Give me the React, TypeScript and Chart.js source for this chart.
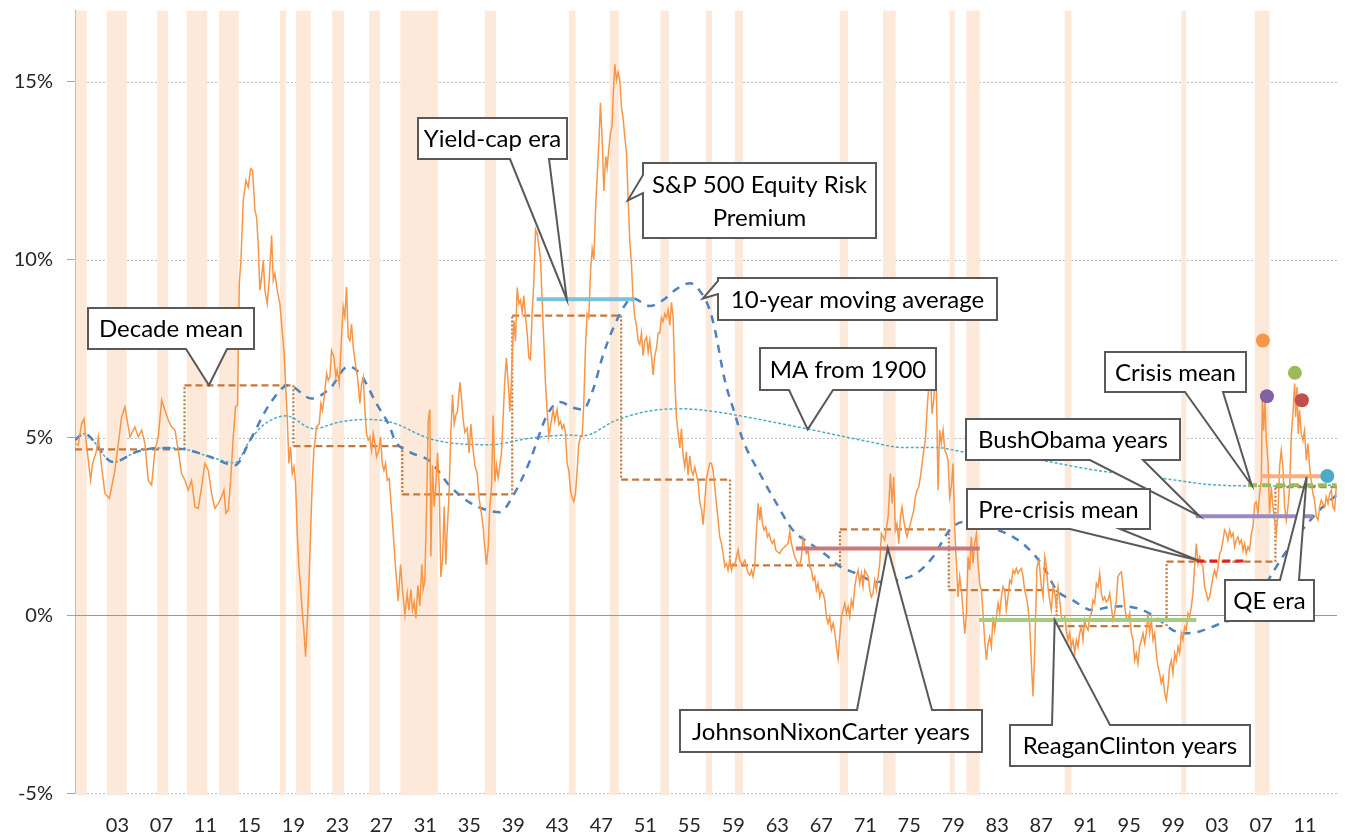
import React, { useEffect, useRef } from "react";
import { Chart, registerables } from "chart.js";

Chart.register(...registerables);

// ---------- axis ----------
const X_MIN = 1899.14;
const X_MAX = 2013.9;
const Y_MIN = -5;
const Y_MAX = 17;
const xTickYears = [1903, 1907, 1911, 1915, 1919, 1923, 1927, 1931, 1935, 1939, 1943, 1947, 1951, 1955, 1959, 1963, 1967, 1971, 1975, 1979, 1983, 1987, 1991, 1995, 1999, 2003, 2007, 2011];
const yTickValues = [-5, 0, 5, 10, 15];

// ---------- recession bands (start, end) ----------
const recessions: [number, number][] = [
  [1899.2, 1900.2], [1902.02, 1903.84], [1906.62, 1907.62], [1909.29, 1911.16], [1912.25, 1914.02],
  [1917.77, 1918.32], [1919.23, 1920.56], [1922.53, 1923.59], [1925.89, 1926.87], [1928.73, 1932.16],
  [1936.41, 1937.41], [1944.05, 1944.65], [1947.77, 1948.59], [1952.38, 1953.14], [1956.5, 1957.07],
  [1959.14, 1959.89], [1968.68, 1969.44], [1972.62, 1973.77], [1978.68, 1979.14], [1980.2, 1981.41],
  [1989.14, 1989.75], [1999.75, 2000.2], [2006.41, 2007.77],
];

// ---------- S&P 500 equity risk premium (year, %) ----------
const erpPoints: [number, number][] = [
  [1899.14,4.83],[1899.44,4.79],[1899.74,5.39],[1899.95,5.53],[1900.14,4.93],[1900.35,4.36],[1900.56,3.80],[1900.74,4.27],[1901.11,4.64],[1901.26,5.02],[1901.56,4.18],[1901.86,3.43],[1902.26,3.29],[1902.47,3.61],[1902.77,4.08],[1903.08,4.83],[1903.38,5.58],[1903.68,5.86],[1903.83,5.58],[1904.14,5.02],[1904.59,5.30],[1904.89,5.02],[1905.20,5.21],[1905.50,4.83],[1905.80,3.80],[1906.11,3.66],[1906.41,4.64],[1906.71,5.02],[1907.02,6.05],[1907.32,5.77],[1907.62,5.49],[1907.92,5.30],[1908.23,5.21],[1908.53,4.64],[1908.83,3.99],[1909.14,3.80],[1909.44,3.52],[1909.74,3.80],[1910.05,3.05],[1910.35,3.01],[1910.65,3.61],[1910.95,4.27],[1911.26,4.08],[1911.56,3.43],[1911.86,3.01],[1912.17,3.15],[1912.47,3.33],[1912.68,3.52],[1912.86,2.87],[1913.08,2.96],[1913.29,3.80],[1913.53,5.02],[1913.74,5.86],[1913.92,5.91],[1914.08,9.33],[1914.23,9.98],[1914.44,11.67],[1914.68,12.23],[1914.89,12.04],
  [1915.11,12.56],[1915.29,12.51],[1915.50,11.39],[1915.65,11.20],[1915.80,10.45],[1915.95,9.14],[1916.11,9.51],[1916.26,9.98],[1916.41,9.14],[1916.62,8.76],[1916.80,9.42],[1917.02,10.68],[1917.17,9.42],[1917.32,9.61],[1917.53,9.14],[1917.77,8.76],[1917.98,8.01],[1918.14,7.45],[1918.29,6.52],[1918.44,5.58],[1918.59,4.27],[1918.74,4.74],[1918.89,3.99],[1919.05,4.18],[1919.20,3.71],[1919.35,2.30],[1919.50,1.37],[1919.65,0.81],[1919.80,0.15],[1919.95,-0.41],[1920.11,-1.16],[1920.26,-0.22],[1920.41,0.90],[1920.56,2.30],[1920.71,3.71],[1920.86,4.64],[1921.11,5.30],[1921.35,5.39],[1921.50,5.96],[1921.65,5.77],[1921.80,6.14],[1922.02,6.80],[1922.17,6.61],[1922.32,6.70],[1922.47,7.45],[1922.68,7.27],[1922.86,6.70],[1922.98,6.89],[1923.17,6.52],[1923.38,7.83],[1923.53,8.67],[1923.68,8.39],[1923.83,9.23],[1923.98,7.83],[1924.14,7.73],[1924.29,8.20],[1924.44,7.55],[1924.68,6.98],[1924.83,6.70],[1925.05,5.96],[1925.20,6.52],[1925.35,6.70],[1925.50,5.77],[1925.65,5.11],[1925.80,4.93],[1925.95,5.02],[1926.11,4.64],[1926.26,5.11],[1926.41,4.83],[1926.56,4.46],[1926.77,4.64],[1926.92,5.02],[1927.08,4.27],[1927.23,4.08],[1927.38,4.27],[1927.53,3.80],[1927.71,3.85],[1927.86,3.24],[1928.08,2.30],
  [1928.23,1.60],[1928.53,0.40],[1928.74,1.43],[1928.92,0.73],[1929.14,0.03],[1929.35,0.62],[1929.50,0.15],[1929.68,0.73],[1929.83,0.15],[1929.98,0.38],[1930.14,-0.08],[1930.32,0.85],[1930.50,0.27],[1930.68,1.43],[1930.80,0.73],[1930.95,0.97],[1931.11,3.06],[1931.26,5.50],[1931.41,5.79],[1931.50,1.66],[1931.65,4.22],[1931.80,3.06],[1931.95,3.64],[1932.11,4.57],[1932.26,3.64],[1932.41,1.08],[1932.56,1.55],[1932.71,3.06],[1932.86,1.43],[1932.98,2.36],[1933.14,3.29],[1933.32,5.15],[1933.47,6.20],[1933.62,5.38],[1933.77,5.62],[1933.92,5.73],[1934.14,6.55],[1934.26,6.20],[1934.44,5.50],[1934.59,5.15],[1934.80,5.27],[1934.98,4.57],[1935.14,5.38],[1935.29,4.80],[1935.50,4.22],[1935.71,3.99],[1935.89,3.29],[1936.11,2.83],[1936.26,2.48],[1936.41,1.90],[1936.56,1.43],[1936.71,1.90],[1936.86,3.06],[1937.02,3.64],[1937.17,5.62],[1937.32,3.76],[1937.47,4.22],[1937.62,3.87],[1937.77,4.22],[1937.92,4.57],[1938.08,5.62],[1938.23,6.66],[1938.38,7.24],[1938.47,6.78],[1938.59,6.31],[1938.68,5.73],[1938.80,6.43],[1938.92,7.48],[1939.05,8.29],[1939.20,7.71],[1939.35,9.22],[1939.50,8.76],[1939.65,8.87],[1939.80,8.52],[1939.95,8.99],[1940.11,8.41],[1940.26,7.94],[1940.41,7.24],[1940.56,7.19],[1940.71,8.52],[1940.86,9.34],[1941.02,10.85],[1941.17,10.73],[1941.32,10.38],[1941.47,10.03],[1941.62,8.87],[1941.77,7.71],[1941.92,6.55],[1942.08,5.73],[1942.23,5.03],
  [1942.62,5.79],[1942.77,5.46],[1942.98,5.79],[1943.14,5.36],[1943.29,5.46],[1943.44,5.25],[1943.59,5.36],[1943.74,5.14],[1943.89,4.28],[1944.05,4.06],[1944.20,3.52],[1944.35,3.31],[1944.50,3.20],[1944.65,3.42],[1944.80,4.06],[1944.95,4.82],[1945.11,5.03],[1945.26,5.03],[1945.41,6.00],[1945.56,7.51],[1945.71,8.48],[1945.86,8.37],[1946.02,9.67],[1946.17,10.31],[1946.32,10.00],[1946.50,11.60],[1946.68,12.68],[1946.80,13.44],[1946.92,14.41],[1947.02,13.76],[1947.11,13.11],[1947.23,11.93],[1947.32,12.47],[1947.41,12.90],[1947.53,12.58],[1947.68,13.11],[1947.83,13.55],[1947.98,13.76],[1948.08,14.62],[1948.23,15.49],[1948.38,15.05],[1948.53,15.27],[1948.68,15.05],[1948.83,14.30],[1948.98,13.98],[1949.14,13.44],[1949.29,13.00],[1949.44,11.71],[1949.59,10.53],[1949.74,9.88],[1949.89,8.91],[1950.05,8.37],[1950.20,8.16],[1950.35,7.73],[1950.50,7.62],[1950.65,7.94],[1950.80,7.30],[1950.95,7.73],[1951.11,7.83],[1951.26,7.40],[1951.41,7.73],[1951.56,7.30],[1951.71,6.76],[1951.86,7.30],[1952.02,7.51],[1952.17,7.94],[1952.32,7.94],[1952.47,8.37],[1952.62,8.26],[1952.77,8.48],[1952.92,8.37],[1953.08,8.59],[1953.23,8.16],[1953.38,8.80],[1953.53,8.37],[1953.68,6.65],[1953.83,5.57],[1953.98,5.14],[1954.14,4.71],[1954.29,5.25],[1954.44,4.49],[1954.59,4.17],[1954.74,4.60],[1954.89,3.95],[1955.05,4.49],[1955.20,4.06],[1955.35,3.95],[1955.50,4.17],[1955.65,3.95],[1955.80,3.74],[1955.95,3.20],[1956.11,2.98],[1956.26,2.55],[1956.41,3.20],[1956.56,3.85],[1956.71,4.06],[1956.86,4.28],[1957.02,4.28],[1957.17,4.06],
  [1957.32,3.61],[1957.47,3.15],[1957.62,2.68],[1957.77,2.21],[1957.92,2.02],[1958.08,1.74],[1958.23,1.37],[1958.38,1.46],[1958.53,1.27],[1958.68,1.55],[1958.83,1.27],[1958.98,1.46],[1959.14,1.41],[1959.29,1.65],[1959.44,1.84],[1959.59,1.55],[1959.74,1.46],[1959.89,1.46],[1960.05,1.55],[1960.20,1.37],[1960.35,1.18],[1960.50,1.13],[1960.65,1.27],[1960.80,1.09],[1960.95,1.37],[1961.11,2.40],[1961.26,3.15],[1961.41,2.68],[1961.50,3.05],[1961.65,2.58],[1961.80,2.40],[1961.95,2.49],[1962.11,2.21],[1962.26,2.30],[1962.41,2.12],[1962.56,2.02],[1962.71,2.12],[1962.86,1.84],[1963.02,1.79],[1963.23,1.74],[1963.38,1.84],[1963.53,1.88],[1963.68,1.93],[1963.83,1.98],[1963.98,2.02],[1964.14,2.35],[1964.29,2.02],[1964.44,1.84],[1964.59,1.65],[1964.74,1.55],[1964.89,1.46],[1965.05,1.41],[1965.20,1.65],[1965.35,2.16],[1965.50,1.93],[1965.65,1.74],[1965.80,1.84],[1965.95,1.37],[1966.11,1.27],[1966.26,0.99],[1966.41,1.09],[1966.56,0.71],[1966.71,0.90],[1966.86,0.52],[1967.02,0.71],[1967.17,0.62],[1967.32,0.43],[1967.47,-0.04],[1967.62,-0.22],[1967.77,-0.04],[1967.92,-0.41],[1968.08,-0.22],[1968.23,-0.46],[1968.38,-0.88],[1968.53,-1.21],[1968.68,-0.60],[1968.83,-0.04],[1968.98,0.15],[1969.14,0.34],[1969.29,0.06],[1969.44,0.24],[1969.59,-0.04],[1969.74,0.43],[1969.89,0.24],[1970.05,0.81],[1970.20,1.09],[1970.35,1.27],[1970.50,0.90],[1970.65,1.18],[1970.80,0.81],[1970.95,1.27],[1971.11,1.18],[1971.26,1.09],[1971.41,0.71],[1971.56,0.52],[1971.71,0.62],[1971.86,0.99],[1972.02,0.71],[1972.17,1.09],[1972.32,1.46],
  [1972.47,2.30],[1972.77,2.12],[1973.08,2.77],[1973.29,3.99],[1973.44,3.15],[1973.59,3.90],[1973.74,2.40],[1973.89,2.58],[1974.05,2.02],[1974.20,2.77],[1974.35,3.05],[1974.50,2.68],[1974.65,2.40],[1974.80,2.21],[1974.95,2.40],[1975.11,2.58],[1975.26,2.77],[1975.41,2.96],[1975.56,3.33],[1975.71,3.52],[1975.86,3.61],[1976.02,3.90],[1976.17,4.27],[1976.32,4.64],[1976.47,4.93],[1976.62,5.77],[1976.77,6.42],[1976.92,6.80],[1977.08,5.67],[1977.23,6.05],[1977.38,6.98],[1977.47,6.42],[1977.62,3.52],[1977.77,5.21],[1977.92,4.83],[1978.08,5.21],[1978.23,4.64],[1978.38,4.55],[1978.53,4.36],[1978.68,3.33],[1978.83,3.61],[1978.98,4.27],[1979.14,2.40],[1979.29,1.46],[1979.44,0.52],[1979.59,1.09],[1979.74,0.71],[1979.89,0.15],[1980.05,-0.51],[1980.20,0.06],[1980.35,1.65],[1980.50,1.27],[1980.65,2.21],[1980.80,1.46],[1980.95,2.02],[1981.11,2.30],[1981.26,1.46],[1981.41,0.90],[1981.56,0.71],[1981.71,0.06],[1981.86,-0.69],[1982.02,-1.25],[1982.17,-0.79],[1982.32,-0.60],[1982.47,-0.88],[1982.62,-0.04],[1982.77,-0.41],[1982.92,-0.04],[1983.08,0.34],[1983.23,0.06],[1983.38,0.52],[1983.53,0.81],[1983.68,0.71],[1983.83,0.15],[1983.98,0.52],[1984.14,0.99],[1984.29,0.90],[1984.44,1.27],[1984.59,1.18],[1984.74,1.32],[1984.89,1.18],[1985.05,1.27],[1985.20,1.32],[1985.35,1.09],[1985.50,0.71],[1985.65,0.52],[1985.80,0.24],[1985.95,-0.22],[1986.11,-1.35],[1986.26,-2.28],[1986.41,-0.97],
  [1986.62,1.37],[1986.80,1.55],[1987.02,0.80],[1987.17,0.52],[1987.32,1.65],[1987.47,1.37],[1987.62,0.80],[1987.77,0.43],[1987.92,0.15],[1988.08,0.80],[1988.23,0.62],[1988.38,0.24],[1988.53,0.80],[1988.68,0.43],[1988.83,-0.04],[1988.98,-0.13],[1989.14,-0.04],[1989.29,-0.41],[1989.44,-0.69],[1989.59,-0.50],[1989.74,-0.88],[1989.89,-0.69],[1990.05,-1.06],[1990.20,-0.69],[1990.35,-0.88],[1990.50,-0.50],[1990.65,-0.32],[1990.80,-0.69],[1990.95,-0.13],[1991.11,-0.32],[1991.26,-0.41],[1991.41,-0.04],[1991.56,0.06],[1991.71,0.43],[1991.86,0.34],[1992.02,0.90],[1992.17,0.80],[1992.32,1.18],[1992.47,0.62],[1992.62,0.43],[1992.77,0.52],[1992.92,0.38],[1993.08,0.43],[1993.23,0.62],[1993.38,0.24],[1993.53,-0.13],[1993.68,0.06],[1993.83,0.43],[1993.98,1.08],[1994.14,1.18],[1994.29,1.22],[1994.44,0.80],[1994.59,0.24],[1994.74,-0.04],[1994.89,-0.13],[1995.05,0.06],[1995.20,-0.50],[1995.35,-0.69],[1995.50,-1.26],[1995.65,-1.07],[1995.80,-1.35],[1995.95,-0.88],[1996.11,-0.69],[1996.26,-0.50],[1996.41,-0.79],[1996.56,-0.50],[1996.71,0.06],[1996.86,-0.50],[1997.02,-0.13],[1997.17,-0.69],[1997.32,-0.50],[1997.47,-1.07],[1997.62,-1.44],[1997.77,-1.63],[1997.92,-1.91],[1998.08,-1.72],[1998.23,-2.19],[1998.38,-2.38],[1998.53,-2.00],[1998.68,-1.44],[1998.83,-1.26],[1998.98,-1.63],[1999.14,-1.07],[1999.29,-1.26],[1999.44,-0.88],[1999.59,-1.07],[1999.74,-0.50],[1999.89,-0.69],[2000.05,-0.32],[2000.20,-0.41],[2000.35,0.06],[2000.50,-0.04],[2000.65,0.24],[2000.80,0.62],[2000.95,1.37],[2001.11,2.02],[2001.26,1.46],[2001.41,1.65],[2001.56,1.46],[2001.71,1.37],[2001.86,0.80],[2002.02,0.62],[2002.17,0.43],
  [2002.32,0.52],[2002.47,0.80],[2002.62,1.09],[2002.77,1.27],[2002.92,1.09],[2003.08,1.36],[2003.23,1.74],[2003.38,1.83],[2003.53,2.12],[2003.68,2.40],[2003.83,2.31],[2003.98,2.12],[2004.14,2.40],[2004.29,2.21],[2004.44,2.31],[2004.59,1.93],[2004.74,2.12],[2004.89,2.21],[2005.05,2.02],[2005.20,2.12],[2005.35,1.83],[2005.50,2.02],[2005.65,1.74],[2005.80,1.93],[2005.95,1.83],[2006.11,2.30],[2006.26,2.49],[2006.41,3.14],[2006.56,3.19],[2006.71,2.86],[2006.86,3.42],[2007.02,3.80],[2007.11,6.20],[2007.23,5.20],[2007.35,6.05],[2007.47,4.92],[2007.62,4.36],[2007.77,2.86],[2007.92,3.61],[2008.08,3.05],[2008.23,2.68],[2008.38,2.30],[2008.53,2.86],[2008.68,4.18],[2008.83,4.64],[2008.98,4.18],[2009.14,3.05],[2009.29,2.68],[2009.44,3.05],[2009.59,3.61],[2009.74,5.02],[2009.89,5.67],[2010.05,6.52],[2010.14,5.58],[2010.26,6.42],[2010.38,5.11],[2010.50,5.77],[2010.65,5.11],[2010.80,4.92],[2010.95,5.20],[2011.11,4.36],[2011.26,4.83],[2011.41,4.18],[2011.56,3.80],[2011.71,3.42],[2011.86,3.24],[2012.02,2.77],[2012.17,2.68],[2012.32,3.05],[2012.47,3.24],[2012.62,3.14],[2012.77,3.05],[2012.92,3.33],[2013.08,3.14],[2013.23,3.42],[2013.38,3.52],[2013.53,3.05],[2013.68,2.96],[2013.83,3.61],
];

// ---------- 10-year moving average ----------
const ma10Points: [number, number][] = [
  [1899.14,4.93],[1899.95,5.11],[1902.62,4.31],[1904.75,4.60],[1906.86,4.71],[1909.14,4.67],[1911.41,4.46],[1913.68,4.22],[1915.05,4.92],[1916.86,5.95],[1918.53,6.47],[1920.65,6.10],[1922.32,6.38],[1923.98,7.00],[1925.05,6.80],[1926.56,5.95],[1927.77,5.30],[1928.23,4.92],[1929.59,4.59],[1931.41,4.34],[1933.23,3.64],[1935.05,3.17],[1936.86,2.94],[1937.77,2.90],[1938.95,3.35],[1940.50,4.34],[1942.05,5.62],[1943.23,6.00],[1944.41,5.84],[1945.32,5.79],[1946.23,6.33],[1947.14,7.30],[1948.05,8.05],[1949.32,8.80],[1949.86,8.91],[1951.41,8.70],[1952.59,8.86],[1953.86,9.18],[1955.05,9.34],[1955.95,9.13],[1956.86,8.59],[1957.32,8.05],[1958.23,6.61],[1959.14,5.67],[1959.89,4.92],[1961.41,3.99],[1962.93,3.15],[1964.41,2.40],[1965.95,2.03],[1967.47,1.69],[1968.68,1.38],[1970.20,1.18],[1972.02,0.94],[1973.84,0.99],[1975.65,1.18],[1977.17,1.65],[1978.68,2.40],[1979.89,2.63],[1981.11,2.58],[1983.50,2.35],[1985.32,2.02],[1987.14,1.40],[1988.41,0.71],[1989.86,0.43],[1991.68,0.15],[1993.23,0.24],[1994.41,0.26],[1996.23,0.15],[1997.77,-0.13],[1998.95,-0.41],[2000.23,-0.50],[2001.41,-0.45],[2002.32,-0.35],[2003.50,-0.20],[2005.95,0.10],[2008.08,1.22],[2009.59,1.93],[2012.02,2.87],[2013.83,3.38],
];

// ---------- moving average from 1900 ----------
const ma1900Points: [number, number][] = [
  [1899.14,4.93],[1899.95,5.11],[1902.62,4.31],[1904.75,4.60],[1906.86,4.71],[1909.14,4.67],[1911.41,4.46],[1913.68,4.29],[1915.05,4.92],[1916.26,5.35],[1918.38,5.61],[1920.80,5.25],[1923.23,5.44],[1925.65,5.51],[1927.77,5.44],[1931.71,4.94],[1936.86,4.80],[1940.50,4.98],[1944.09,5.07],[1945.32,5.05],[1948.38,5.49],[1951.41,5.75],[1954.41,5.81],[1957.50,5.72],[1959.29,5.63],[1965.77,5.24],[1971.41,4.88],[1974.44,4.72],[1977.50,4.72],[1979.89,4.60],[1986.00,4.41],[1992.00,4.08],[1998.10,3.85],[2002.30,3.68],[2006.60,3.64],[2013.83,3.66],
];

// ---------- decade means ----------
const decadeBreaks = [1899.14, 1909.1, 1919.0, 1928.9, 1938.9, 1948.8, 1958.7, 1968.7, 1978.6, 1988.4, 1998.4, 2008.3, 2013.9];
const decadeMeans = [4.67, 6.47, 4.76, 3.40, 8.43, 3.82, 1.41, 2.42, 0.71, -0.30, 1.51, 3.61];

// ---------- era means ----------
const eraNames = ["Yield-cap era", "JohnsonNixonCarter years", "ReaganClinton years", "BushObama years", "Pre-crisis mean", "Crisis mean", "QE era"];
const eraStarts = [1941.11, 1964.68, 1981.35, 2001.05, 2001.11, 2005.8, 2007.02];
const eraEnds = [1950.05, 1981.41, 2001.11, 2011.71, 2005.65, 2013.86, 2012.62];
const eraMeans = [8.89, 1.88, -0.13, 2.79, 1.53, 3.66, 3.91];

// ---------- highlighted points ----------
const dotYears = [2007.16, 2007.53, 2010.07, 2010.71, 2013.02];
const dotValues = [7.73, 6.16, 6.82, 6.05, 3.92];

// ---------- styles ----------
const eraStyles: Record<string, { color: string; width: number; dash: number[] }> = {
  "Yield-cap era": { color: "#7EC0D8", width: 4, dash: [] },
  "JohnsonNixonCarter years": { color: "#C9787E", width: 4, dash: [] },
  "ReaganClinton years": { color: "#A8CB82", width: 4, dash: [] },
  "BushObama years": { color: "#9B8AC0", width: 4, dash: [] },
  "Pre-crisis mean": { color: "#E41E26", width: 3, dash: [8, 5] },
  "Crisis mean": { color: "#9BBB59", width: 4, dash: [9, 5] },
  "QE era": { color: "#F9AE7C", width: 4, dash: [] },
};
const dotColors = ["#F79646", "#8064A2", "#9BBB59", "#C0504D", "#4BACC6"];

type Callout = {
  lines: string[];
  box: [number, number, number, number];
  side: "top" | "bottom" | "left";
  base: [number, number];
  tip: [number, number];
};

const callouts: Callout[] = [
  { lines: ["Decade mean"], box: [88, 308, 254, 349], side: "bottom", base: [186, 227], tip: [1911.32, 6.47] },
  { lines: ["Yield-cap era"], box: [418, 118, 567, 159], side: "bottom", base: [510, 549], tip: [1943.86, 8.89] },
  { lines: ["S&P 500 Equity Risk", "Premium"], box: [643, 163, 876, 238], side: "left", base: [175, 193], tip: [1949.41, 11.67] },
  { lines: ["10-year moving average"], box: [718, 278, 997, 320], side: "left", base: [281, 294], tip: [1956.23, 8.91] },
  { lines: ["MA from 1900"], box: [760, 348, 936, 390], side: "bottom", base: [789, 833], tip: [1965.77, 5.23] },
  { lines: ["Crisis mean"], box: [1105, 352, 1246, 392], side: "bottom", base: [1185, 1223], tip: [2006.14, 3.66] },
  { lines: ["BushObama years"], box: [966, 419, 1180, 460], side: "bottom", base: [1090, 1143], tip: [2001.41, 2.79] },
  { lines: ["Pre-crisis mean"], box: [967, 489, 1150, 529], side: "bottom", base: [1070, 1120], tip: [2001.23, 1.55] },
  { lines: ["QE era"], box: [1225, 580, 1314, 621], side: "top", base: [1280, 1299], tip: [2011.14, 3.89] },
  { lines: ["JohnsonNixonCarter years"], box: [680, 710, 982, 752], side: "top", base: [857, 932], tip: [1973.05, 1.89] },
  { lines: ["ReaganClinton years"], box: [1010, 725, 1250, 766], side: "top", base: [1052, 1110], tip: [1988.23, -0.13] },
];

const FONT = "Lato, 'Open Sans', 'DejaVu Sans', sans-serif";

const backgroundPlugin = {
  id: "erpBackground",
  beforeDatasetsDraw(chart: any) {
    const { ctx, chartArea: a, scales } = chart;
    const x = scales.x;
    const y = scales.y;
    ctx.save();
    // dotted horizontal gridlines
    ctx.strokeStyle = "#BFBFBF";
    ctx.lineWidth = 1;
    ctx.setLineDash([2, 2]);
    yTickValues.forEach((v) => {
      if (v === 0) return;
      const py = Math.round(y.getPixelForValue(v)) + 0.5;
      ctx.beginPath();
      ctx.moveTo(a.left, py);
      ctx.lineTo(a.right, py);
      ctx.stroke();
    });
    ctx.setLineDash([]);
    // recession bands
    ctx.fillStyle = "rgb(253,233,217)";
    recessions.forEach(([s, e]) => {
      const x0 = x.getPixelForValue(s);
      const x1 = x.getPixelForValue(e);
      ctx.fillRect(x0, a.top, x1 - x0, a.bottom - a.top + 2);
    });
    // zero line
    const p0 = Math.round(y.getPixelForValue(0)) + 0.5;
    ctx.strokeStyle = "#999999";
    ctx.lineWidth = 1;
    ctx.beginPath();
    ctx.moveTo(a.left, p0);
    ctx.lineTo(a.right, p0);
    ctx.stroke();
    ctx.restore();
  },
};

const calloutPlugin = {
  id: "erpCallouts",
  afterDatasetsDraw(chart: any) {
    const { ctx, scales } = chart;
    const x = scales.x;
    const y = scales.y;
    ctx.save();
    callouts.forEach((c) => {
      const [x0, y0, x1, y1] = c.box;
      const tx = x.getPixelForValue(c.tip[0]);
      const ty = y.getPixelForValue(c.tip[1]);
      const [b0, b1] = c.base;
      ctx.beginPath();
      ctx.moveTo(x0, y0);
      if (c.side === "top") {
        ctx.lineTo(b0, y0);
        ctx.lineTo(tx, ty);
        ctx.lineTo(b1, y0);
      }
      ctx.lineTo(x1, y0);
      ctx.lineTo(x1, y1);
      if (c.side === "bottom") {
        ctx.lineTo(b1, y1);
        ctx.lineTo(tx, ty);
        ctx.lineTo(b0, y1);
      }
      ctx.lineTo(x0, y1);
      if (c.side === "left") {
        ctx.lineTo(x0, b1);
        ctx.lineTo(tx, ty);
        ctx.lineTo(x0, b0);
      }
      ctx.closePath();
      ctx.fillStyle = "#FFFFFF";
      ctx.fill();
      ctx.strokeStyle = "#595959";
      ctx.lineWidth = 2;
      ctx.lineJoin = "miter";
      ctx.stroke();
      ctx.fillStyle = "#000000";
      ctx.font = `24px ${FONT}`;
      ctx.textAlign = "center";
      ctx.textBaseline = "middle";
      const cx = (x0 + x1) / 2;
      const cy = (y0 + y1) / 2 + 1;
      const lh = 33;
      c.lines.forEach((t, i) => {
        ctx.fillText(t, cx, cy + (i - (c.lines.length - 1) / 2) * lh);
      });
    });
    ctx.restore();
  },
};

const toXY = (pts: [number, number][]) => pts.map(([px, py]) => ({ x: px, y: py }));

export default function App() {
  const canvasRef = useRef<HTMLCanvasElement | null>(null);

  useEffect(() => {
    document.body.style.margin = "0";
    const canvas = canvasRef.current;
    if (!canvas) return;

    const decadePts: { x: number; y: number }[] = [];
    decadeMeans.forEach((m, i) => {
      decadePts.push({ x: decadeBreaks[i], y: m });
      decadePts.push({ x: decadeBreaks[i + 1], y: m });
    });

    const eraDatasets = eraNames.map((name, i) => ({
      label: name,
      data: [
        { x: eraStarts[i], y: eraMeans[i] },
        { x: eraEnds[i], y: eraMeans[i] },
      ],
      borderColor: eraStyles[name].color,
      borderWidth: eraStyles[name].width,
      borderDash: eraStyles[name].dash,
      borderCapStyle: "butt" as const,
      pointRadius: 0,
      order: 1,
    }));

    const chart = new Chart(canvas, {
      type: "line",
      data: {
        datasets: [
          {
            label: "Decade mean",
            data: decadePts,
            borderColor: "#C5783C",
            borderWidth: 2.25,
            borderDash: [7, 4],
            pointRadius: 0,
            segment: {
              borderDash: (ctx: any) => (ctx.p0.parsed.x === ctx.p1.parsed.x ? [2, 2] : undefined),
            },
            order: 5,
          } as any,
          {
            label: "MA from 1900",
            data: toXY(ma1900Points),
            borderColor: "#4BACC6",
            borderWidth: 1.5,
            borderDash: [3, 2],
            pointRadius: 0,
            cubicInterpolationMode: "monotone",
            order: 4,
          },
          {
            label: "10-year moving average",
            data: toXY(ma10Points),
            borderColor: "#4F81BD",
            borderWidth: 2.5,
            borderDash: [8, 7],
            pointRadius: 0,
            cubicInterpolationMode: "monotone",
            order: 3,
          },
          {
            label: "S&P 500 Equity Risk Premium",
            data: toXY(erpPoints),
            borderColor: "#F79646",
            borderWidth: 1.5,
            pointRadius: 0,
            order: 2,
          },
          ...eraDatasets,
          {
            label: "Highlights",
            data: dotYears.map((yr, i) => ({ x: yr, y: dotValues[i] })),
            showLine: false,
            pointRadius: 7,
            pointBorderWidth: 0,
            pointBackgroundColor: dotColors,
            pointBorderColor: dotColors,
            order: 0,
          },
        ],
      },
      options: {
        animation: false,
        responsive: false,
        devicePixelRatio: 1,
        events: [],
        layout: { padding: { top: 10.7, right: 8, left: 0, bottom: 0 } },
        plugins: {
          legend: { display: false },
          tooltip: { enabled: false },
        },
        scales: {
          x: {
            type: "linear",
            min: X_MIN,
            max: X_MAX,
            afterBuildTicks: (s: any) => {
              s.ticks = xTickYears.map((v) => ({ value: v }));
            },
            afterFit: (s: any) => {
              s.height = 43.7;
              s.paddingLeft = 0;
              s.paddingRight = 0;
            },
            grid: { display: false, drawTicks: false },
            border: { display: false },
            ticks: {
              autoSkip: false,
              maxRotation: 0,
              padding: 20,
              color: "#262626",
              font: { family: FONT, size: 20 },
              callback: (v: any) => String(Number(v) % 100).padStart(2, "0"),
            },
          },
          y: {
            type: "linear",
            min: Y_MIN,
            max: Y_MAX,
            afterBuildTicks: (s: any) => {
              s.ticks = yTickValues.map((v) => ({ value: v }));
            },
            afterFit: (s: any) => {
              s.width = 75;
              s.paddingTop = 0;
              s.paddingBottom = 0;
            },
            grid: {
              drawOnChartArea: false,
              drawTicks: true,
              tickLength: 8,
              color: "#A6A6A6",
              tickColor: "#A6A6A6",
            },
            border: { display: true, color: "#A6A6A6", width: 1 },
            ticks: {
              padding: 14,
              color: "#262626",
              font: { family: FONT, size: 20 },
              callback: (v: any) => `${v}%`,
            },
          },
        },
      },
      plugins: [backgroundPlugin, calloutPlugin],
    } as any);

    return () => chart.destroy();
  }, []);

  return (
    <div style={{ width: 1345, height: 837, background: "#fff" }}>
      <canvas ref={canvasRef} width={1345} height={837} style={{ display: "block" }} />
    </div>
  );
}
